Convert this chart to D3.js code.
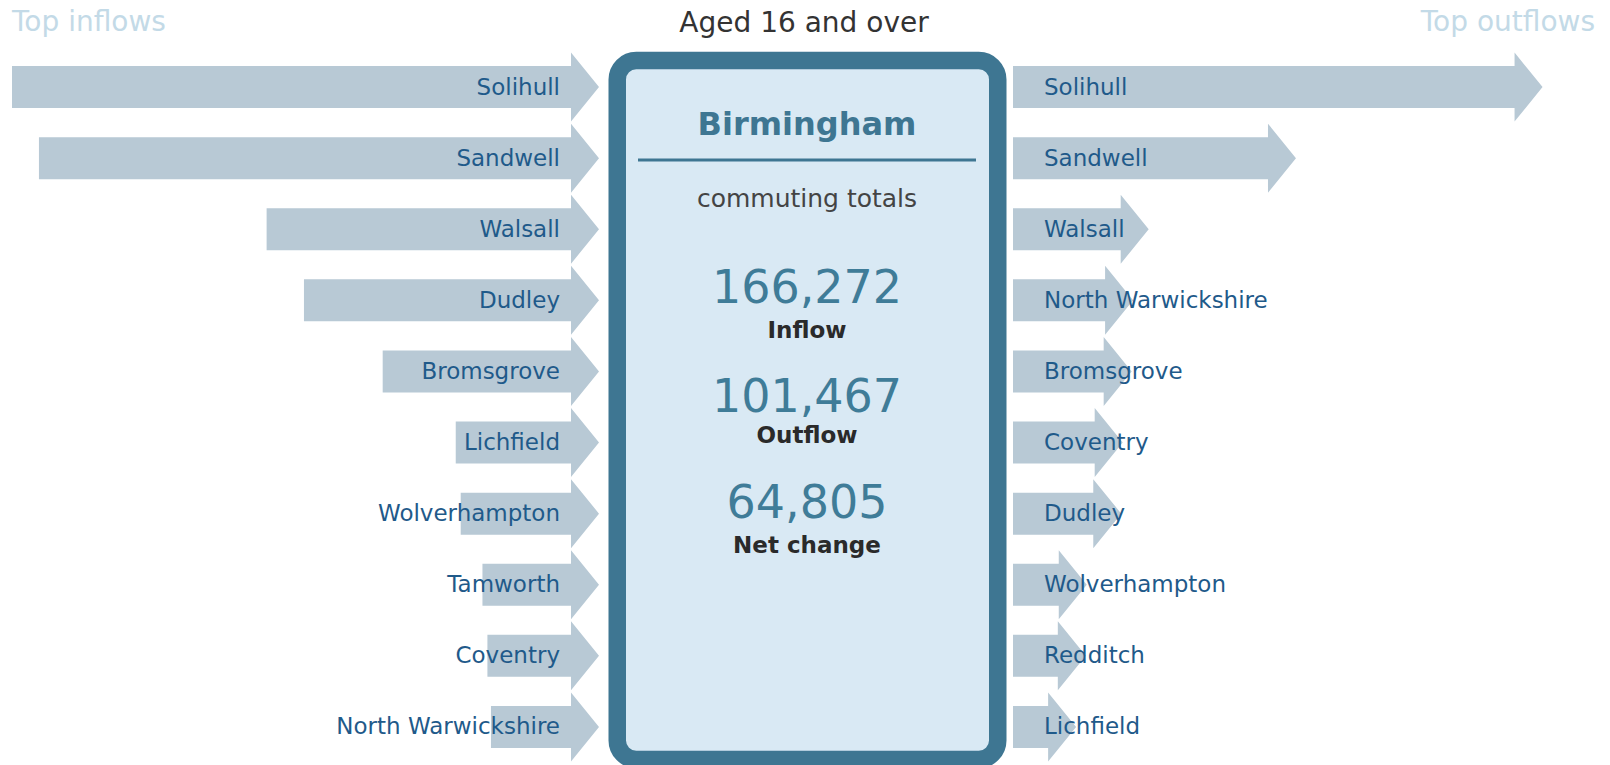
<!DOCTYPE html>
<html>
<head>
<meta charset="utf-8">
<script src="https://cdn.jsdelivr.net/npm/d3@7"></script>
<style>
  body { margin: 0; background: #fff; }
  svg { display: block; font-family: "DejaVu Sans", Verdana, sans-serif; }
</style>
</head>
<body>
<svg class="flows"></svg>
<script>
// commuting flows, people aged 16 and over
var areaName = 'Birmingham';
var inflowPlaces = ['Solihull', 'Sandwell', 'Walsall', 'Dudley', 'Bromsgrove', 'Lichfield',
    'Wolverhampton', 'Tamworth', 'Coventry', 'North Warwickshire'];
var inflowValues = [24830, 23690, 14060, 12480, 9150, 6060, 5850, 4930, 4720, 4570];
var outflowPlaces = ['Solihull', 'Sandwell', 'Walsall', 'North Warwickshire', 'Bromsgrove', 'Coventry',
    'Dudley', 'Wolverhampton', 'Redditch', 'Lichfield'];
var outflowValues = [22400, 11970, 5740, 5080, 5020, 4640, 4580, 3120, 3080, 2670];
var totalLabels = ['Inflow', 'Outflow', 'Net change'];
var totalValues = [166272, 101467, 64805];

var W = 1610, H = 765;
var svg = d3.select('.flows').attr('width', W).attr('height', H);

var boxCx = 807;
var inTip = 599, outBase = 1013;
var headLen = 28, shaftH = 21, headH = 34.5;

var len = d3.scaleLinear().domain([0, d3.max(inflowValues.concat(outflowValues))]).range([0, 587]);
var row = d3.scaleBand().domain(d3.range(10)).range([51.5, 762.5]);
function cy(i) { return row(i) + row.bandwidth() / 2; }

function arrow(x0, x1, y) {
    // x0 = tail, x1 = tip, pointing right
    var hb = x1 - headLen;
    return 'M' + x0 + ',' + (y - shaftH) + 'L' + hb + ',' + (y - shaftH) + 'L' + hb + ',' + (y - headH) +
        'L' + x1 + ',' + y + 'L' + hb + ',' + (y + headH) + 'L' + hb + ',' + (y + shaftH) +
        'L' + x0 + ',' + (y + shaftH) + 'Z';
}

// headings
svg.append('text').attr('x', 12).attr('y', 31).attr('font-size', 28).attr('fill', '#c3dae7').text('Top inflows');
svg.append('text').attr('x', 1595).attr('y', 31).attr('font-size', 28).attr('fill', '#c3dae7')
    .attr('text-anchor', 'end').text('Top outflows');
svg.append('text').attr('x', 804).attr('y', 32).attr('font-size', 28).attr('fill', '#333')
    .attr('text-anchor', 'middle').text('Aged 16 and over');

// inflow arrows
var inG = svg.append('g');
inG.selectAll('path').data(inflowValues).enter().append('path')
    .attr('d', function (d, i) { return arrow(inTip - len(d), inTip, cy(i)); })
    .attr('fill', '#b8c9d5');
inG.selectAll('text').data(inflowPlaces).enter().append('text')
    .attr('x', 560).attr('y', function (d, i) { return cy(i) + 7.5; })
    .attr('text-anchor', 'end').attr('font-size', 23).attr('fill', '#1f5a8a')
    .text(function (d) { return d; });

// outflow arrows
var outG = svg.append('g');
outG.selectAll('path').data(outflowValues).enter().append('path')
    .attr('d', function (d, i) { return arrow(outBase, outBase + len(d), cy(i)); })
    .attr('fill', '#b8c9d5');
outG.selectAll('text').data(outflowPlaces).enter().append('text')
    .attr('x', 1044).attr('y', function (d, i) { return cy(i) + 7.5; })
    .attr('font-size', 23).attr('fill', '#1f5a8a')
    .text(function (d) { return d; });

// centre box
svg.append('rect').attr('x', 617.25).attr('y', 60.5).attr('width', 380.5).attr('height', 699)
    .attr('rx', 19).attr('fill', '#d9e9f4').attr('stroke', '#3e7692').attr('stroke-width', 17.5);
svg.append('text').attr('x', boxCx).attr('y', 135).attr('text-anchor', 'middle')
    .attr('font-size', 32).attr('font-weight', 'bold').attr('fill', '#3e7692').text(areaName);
svg.append('line').attr('x1', 638).attr('x2', 976).attr('y1', 160).attr('y2', 160)
    .attr('stroke', '#3e7692').attr('stroke-width', 3);
svg.append('text').attr('x', boxCx).attr('y', 207).attr('text-anchor', 'middle')
    .attr('font-size', 25).attr('fill', '#444').text('commuting totals');

var numY = [303, 412, 518], labY = [337.5, 443, 552.5];
var fmt = d3.format(',');
var tot = svg.append('g');
tot.selectAll('text.num').data(totalValues).enter().append('text').attr('class', 'num')
    .attr('x', boxCx).attr('y', function (d, i) { return numY[i]; })
    .attr('text-anchor', 'middle').attr('font-size', 46).attr('fill', '#3f7c98')
    .text(function (d) { return fmt(d); });
tot.selectAll('text.lab').data(totalLabels).enter().append('text').attr('class', 'lab')
    .attr('x', boxCx).attr('y', function (d, i) { return labY[i]; })
    .attr('text-anchor', 'middle').attr('font-size', 23).attr('font-weight', 'bold').attr('fill', '#2a2a2a')
    .text(function (d) { return d; });
</script>
</body>
</html>
